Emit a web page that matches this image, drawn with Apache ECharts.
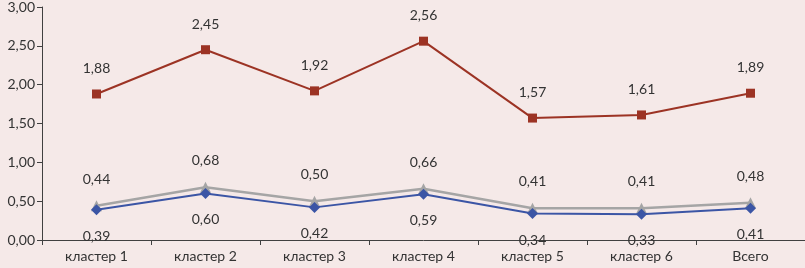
<!DOCTYPE html>
<html><head><meta charset="utf-8">
<script src="https://cdn.jsdelivr.net/npm/echarts@6/dist/echarts.min.js"></script>
<style>html,body{margin:0;padding:0;background:#F5E9E8}#c{width:805px;height:268px}</style>
</head><body><div id="c"></div>
<script>
const categories = ['кластер 1','кластер 2','кластер 3','кластер 4','кластер 5','кластер 6','Всего'];
const redValues = [1.88, 2.45, 1.92, 2.56, 1.57, 1.61, 1.89];
const grayValues = [0.44, 0.68, 0.50, 0.66, 0.41, 0.41, 0.48];
const blueValues = [0.39, 0.60, 0.42, 0.59, 0.34, 0.33, 0.41];
const yTicks = [0, 0.5, 1, 1.5, 2, 2.5, 3];

const fmt = v => v.toFixed(2).replace('.', ',');
const FONT = 'Lato';
const lbl = (pos) => ({show:true, position:pos, distance:14, fontFamily:FONT, fontSize:14, color:'#333',
  formatter: p => fmt(p.value)});

const chart = echarts.init(document.getElementById('c'));
chart.setOption({
  backgroundColor:'#F5E9E8',
  animation:false,
  grid:{left:42, right:0, top:7, bottom:28},
  xAxis:{type:'category', data:categories, boundaryGap:true,
    axisLine:{lineStyle:{color:'#404040', width:1}},
    axisTick:{show:true, interval:0, length:5, lineStyle:{color:'#404040'}},
    axisLabel:{fontFamily:FONT, fontSize:14, color:'#333', margin:9, interval:0}},
  yAxis:{type:'value', min:yTicks[0], max:yTicks[yTicks.length-1], interval:0.5,
    splitLine:{show:false},
    axisLine:{show:true, lineStyle:{color:'#404040'}},
    axisTick:{show:true, length:5, lineStyle:{color:'#404040'}},
    axisLabel:{fontFamily:FONT, fontSize:14, color:'#333', margin:7, formatter: v => fmt(v)}},
  series:[
    {type:'line', data:grayValues, symbol:'triangle', symbolSize:11,
      lineStyle:{color:'#A5A5A5', width:2.5}, itemStyle:{color:'#A5A5A5'}, label:lbl('top'), z:2},
    {type:'line', data:blueValues, symbol:'diamond', symbolSize:11,
      lineStyle:{color:'#3B55A5', width:2}, itemStyle:{color:'#3B55A5'}, label:lbl('bottom'), z:3},
    {type:'line', data:redValues, symbol:'rect', symbolSize:9,
      lineStyle:{color:'#9C3324', width:2}, itemStyle:{color:'#9C3324'}, label:lbl('top'), z:4}
  ]
});
</script></body></html>
